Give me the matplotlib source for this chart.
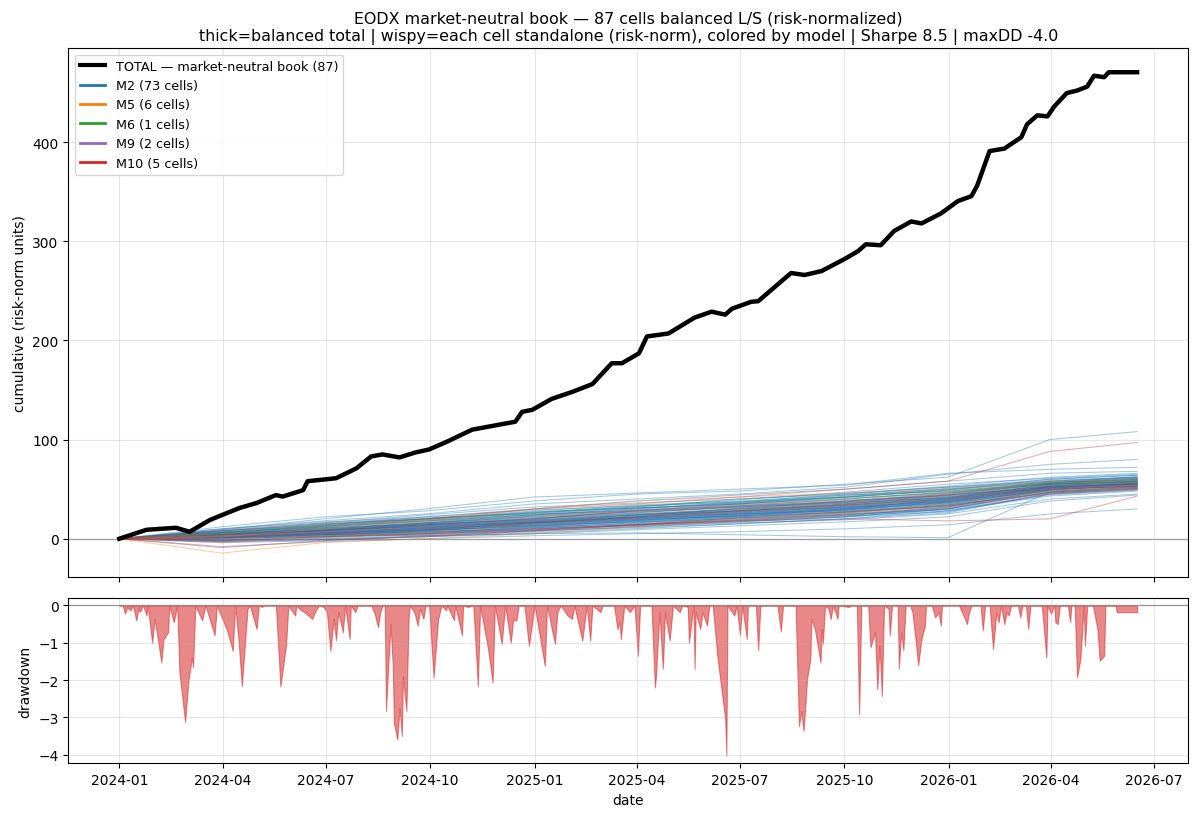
import pandas as pd
import matplotlib
matplotlib.use("Agg")
import matplotlib.pyplot as plt
from matplotlib.lines import Line2D

plt.rcParams["font.size"] = 10

# ---- data ----
start = pd.Timestamp("2024-01-01")

# balanced total, cumulative (day offset from 2024-01-01, value)
total_days = [0, 24, 50, 62, 80, 106, 121, 138, 144, 162, 166, 191, 209, 222, 232,
              247, 261, 273, 289, 311, 349, 355, 364, 381, 399, 417, 434, 443, 458, 465,
              484, 507, 522, 534, 540, 557, 563, 592, 604, 619, 639, 651, 658, 671, 683,
              698, 707, 724, 739, 751, 756, 767, 780, 795, 800, 809, 818, 824, 835, 844,
              853, 859, 868, 872, 897]
total_vals = [0, 9, 11, 7, 19, 31, 36, 44, 42.5, 49, 58, 61, 71, 83, 85,
              82, 87, 90, 98, 110, 118, 128, 130, 141, 148, 156, 177, 177, 187, 204,
              207, 223, 229, 226, 232, 239, 239.5, 268, 266, 270, 282, 290, 297, 296, 310.5,
              320, 318, 328, 340.5, 345.5, 356, 391, 393.5, 405, 418, 427, 426, 436, 449.5, 452,
              456, 467, 465.5, 470.5, 470.5]

# drawdown of the total
dd_days = [0, 3, 5, 7, 10, 12, 15, 17, 18, 21, 24, 25, 29, 31, 34, 37, 39, 43, 44, 48,
           51, 53, 58, 61, 64, 65, 67, 73, 76, 84, 86, 95, 100, 102, 105, 108, 113, 115, 121, 123,
           126, 127, 138, 142, 145, 147, 149, 155, 156, 159, 163, 170, 173, 176, 180, 183, 186, 189, 191, 193,
           197, 199, 203, 204, 208, 210, 222, 225, 228, 230, 232, 234, 235, 239, 241, 242, 245, 247, 249, 250,
           253, 255, 256, 260, 263, 265, 268, 270, 273, 277, 281, 284, 288, 289, 295, 296, 302, 303, 307, 312,
           316, 318, 325, 329, 331, 337, 340, 345, 347, 350, 352, 357, 361, 366, 375, 377, 382, 384, 386, 389,
           392, 395, 399, 401, 408, 412, 415, 417, 424, 426, 436, 439, 441, 442, 445, 450, 454, 457, 459, 469,
           472, 473, 476, 479, 481, 485, 488, 494, 496, 501, 502, 506, 507, 508, 512, 514, 518, 520, 523, 527,
           534, 535, 536, 542, 544, 547, 549, 553, 554, 561, 563, 565, 580, 583, 585, 596, 599, 601, 603, 605,
           606, 609, 610, 613, 615, 618, 619, 620, 622, 625, 627, 629, 633, 634, 643, 645, 650, 652, 654, 660,
           662, 666, 668, 670, 672, 674, 678, 679, 681, 686, 687, 689, 691, 693, 697, 699, 702, 704, 707, 710,
           711, 716, 719, 722, 724, 725, 740, 744, 747, 749, 751, 759, 761, 763, 767, 770, 773, 775, 777, 780,
           782, 784, 786, 792, 794, 796, 799, 801, 803, 813, 817, 818, 821, 824, 825, 827, 829, 836, 838, 839,
           842, 844, 847, 850, 851, 853, 858, 862, 864, 868, 869, 878, 879, 897]
dd_vals = [0, 0, -0.22, -0.05, -0.13, 0, -0.4, -0.05, -0.18, 0, -0.27, 0, -1.0, -0.36, -0.9, -1.53, -0.9, -0.72, 0, -0.45,
           0, -1.8, -3.13, -2.0, -1.4, -1.66, 0, -0.4, 0, -0.8, 0, -0.67, -1.22, 0, -0.9, -2.17, -0.1, 0, -0.63, 0,
           -0.04, 0, 0, -2.17, -1.5, -1.05, 0, -0.27, 0, -0.1, -0.18, -0.36, -0.14, 0, -0.04, -0.18, -1.22, -0.36, -0.94, -0.18,
           -0.72, 0, -0.9, 0, -0.18, 0, 0, -0.22, -0.58, -0.18, 0, 0, -2.83, -0.5, -1.6, -3.15, -3.6, -2.75, -3.5, -1.9,
           -2.83, -0.32, 0, -0.18, -0.54, -0.09, -0.36, 0, 0, -1.93, -0.36, 0, -0.13, 0, -0.4, 0, -0.8, 0, -0.04, 0,
           -2.17, 0, -1.17, -2.07, 0, -1.03, 0, -1.0, -0.4, -0.4, 0, 0, -1.08, 0, -1.62, 0, -0.76, -1.03, -0.18, 0,
           -0.13, -0.27, -0.36, 0, -0.94, 0, -0.94, 0, -0.18, 0, 0, -0.63, -0.45, -0.9, 0, -0.18, 0, -1.35, 0, 0,
           -2.2, -1.9, -0.18, -1.7, -0.18, -0.94, 0, -0.18, 0, -0.04, -1.0, 0, -1.7, -0.18, -0.63, -0.18, -0.54, 0, 0, -1.35,
           -3.06, -4.03, 0, -0.27, 0, -0.8, 0, -0.9, 0, 0, -1.2, 0, 0, -0.7, 0, 0, -3.24, -2.83, -3.37, -2.52,
           -2.0, -1.44, -0.36, -0.63, -1.0, -1.53, -0.63, -1.03, 0, -0.09, -0.36, 0, -0.36, 0, -0.04, 0, 0, -2.92, 0, 0,
           -1.12, -0.72, -2.25, -1.08, -2.43, 0, -0.09, -0.8, 0, 0, -1.7, -0.72, -1.2, 0, 0, -0.18, -1.0, -1.6, -0.9, -0.54,
           0, 0, -0.32, -0.18, -0.54, 0, 0, -0.27, -0.5, -0.18, 0, 0, -0.67, 0, 0, -1.17, -0.18, -0.45, 0, -0.5,
           -0.18, -0.27, 0, 0, -0.32, 0, 0, -0.63, 0, 0, -1.4, 0, -0.22, 0, -0.45, -0.5, 0, 0, -0.45, 0,
           0, -1.93, -1.44, 0, -1.08, 0, 0, -0.63, -1.48, -1.35, 0, 0, -0.18, -0.18]

# each cell standalone, sampled at these day offsets
cell_days = [0, 90, 180, 270, 365, 455, 545, 640, 730, 820, 897]

m2_cells = [
    [0, 12, 22, 28, 38, 45, 48, 55, 62, 100, 108],
    [0, 10, 18, 25, 35, 40, 45, 52, 65, 75, 80],
    [0, 9, 20, 30, 42, 46, 50, 54, 66, 70, 72],
    [0, 6, 14, 22, 30, 38, 44, 50, 58, 66, 68],
    [0, 4, 12, 18, 26, 32, 40, 46, 52, 60, 64],
    [0, 2, 8, 14, 20, 28, 35, 42, 50, 58, 62],
    [0, 5, 10, 16, 24, 30, 36, 44, 48, 56, 60],
    [0, 3, 9, 12, 18, 24, 30, 38, 46, 55, 58],
    [0, 1, 6, 10, 16, 22, 28, 34, 42, 52, 56],
    [0, -2, 2, 6, 12, 18, 24, 30, 40, 50, 54],
    [0, 7, 15, 20, 28, 34, 38, 44, 50, 57, 59],
    [0, 3, 7, 11, 17, 21, 27, 33, 41, 51, 53],
    [0, 0, 4, 8, 14, 20, 26, 32, 38, 48, 52],
    [0, -4, -2, 3, 8, 14, 20, 26, 34, 46, 50],
    [0, 8, 16, 24, 32, 36, 40, 45, 52, 58, 61],
    [0, 2, 5, 9, 15, 19, 25, 30, 36, 49, 55],
    [0, 5, 12, 18, 22, 27, 31, 37, 45, 55, 57],
    [0, 1, 3, 5, 9, 13, 17, 22, 30, 47, 50],
    [0, 6, 11, 15, 21, 26, 33, 40, 47, 56, 63],
    [0, -1, 4, 7, 11, 16, 22, 27, 35, 50, 54],
    [0, 4, 9, 13, 19, 25, 29, 35, 44, 53, 56],
    [0, 2, 6, 12, 16, 21, 26, 31, 39, 52, 58],
    [0, 10, 17, 22, 29, 33, 37, 42, 49, 57, 60],
    [0, -3, 0, 2, 6, 10, 15, 20, 28, 43, 48],
    [0, 3, 8, 15, 23, 28, 34, 39, 43, 54, 57],
    [0, 1, 2, 4, 8, 12, 16, 19, 25, 40, 45],
    [0, 5, 13, 19, 27, 32, 39, 47, 55, 61, 65],
    [0, 2, 4, 7, 10, 14, 18, 23, 32, 49, 53],
    [0, 4, 7, 10, 14, 20, 25, 28, 34, 50, 56],
    [0, 6, 9, 14, 18, 23, 28, 32, 38, 52, 55],
    [0, -2, 1, 5, 9, 15, 21, 24, 30, 47, 51],
    [0, 7, 12, 17, 25, 31, 35, 41, 46, 56, 59],
    [0, 3, 6, 8, 13, 17, 22, 26, 33, 48, 52],
    [0, 1, 5, 11, 17, 22, 31, 36, 41, 55, 60],
    [0, 5, 8, 12, 16, 19, 23, 29, 37, 51, 57],
    [0, 2, 7, 10, 15, 20, 27, 33, 40, 53, 58],
    [0, -8, -3, 0, 3, 5, 7, 10, 14, 25, 30],
    [0, 8, 14, 20, 26, 31, 36, 43, 51, 59, 62],
    [0, 0, 3, 6, 11, 16, 21, 25, 29, 44, 49],
    [0, 4, 10, 14, 20, 26, 32, 38, 45, 58, 62],
    [0, 2, 6, 9, 13, 18, 24, 30, 37, 52, 55],
    [0, 3, 5, 9, 12, 17, 20, 24, 31, 47, 53],
    [0, 6, 13, 20, 27, 31, 35, 40, 47, 55, 58],
    [0, 1, 4, 8, 12, 15, 19, 23, 28, 45, 50],
    [0, 2, 4, 3, 5, 6, 4, 2, 1, 47, 52],
    [0, 5, 9, 16, 21, 25, 30, 34, 40, 54, 57],
    [0, 3, 8, 13, 18, 24, 28, 33, 39, 51, 54],
    [0, 7, 11, 16, 23, 29, 35, 42, 49, 60, 64],
    [0, -1, 2, 5, 8, 11, 15, 20, 26, 46, 51],
    [0, 4, 6, 11, 16, 20, 25, 31, 38, 53, 59],
    [0, 2, 9, 15, 19, 24, 29, 34, 41, 55, 58],
    [0, 5, 11, 14, 19, 22, 27, 32, 37, 50, 53],
    [0, 1, 3, 8, 14, 19, 23, 27, 33, 49, 55],
    [0, 6, 12, 18, 24, 29, 33, 38, 44, 56, 60],
    [0, 3, 4, 7, 11, 14, 18, 22, 30, 48, 52],
    [0, -2, -1, 2, 5, 9, 13, 17, 22, 38, 44],
    [0, 8, 13, 19, 24, 30, 37, 45, 53, 62, 66],
    [0, 2, 5, 10, 16, 21, 25, 29, 36, 51, 56],
    [0, 4, 9, 12, 17, 23, 30, 35, 42, 54, 57],
    [0, 1, 4, 6, 10, 13, 18, 24, 31, 49, 54],
    [0, 5, 10, 15, 20, 24, 28, 31, 39, 53, 58],
    [0, 3, 7, 13, 18, 22, 28, 35, 43, 56, 61],
    [0, 0, 5, 8, 13, 19, 23, 28, 35, 50, 53],
    [0, 6, 8, 13, 17, 21, 26, 30, 38, 52, 56],
    [0, 2, 6, 11, 14, 18, 22, 27, 34, 50, 55],
    [0, 4, 8, 10, 15, 21, 27, 32, 40, 55, 60],
    [0, 1, 2, 6, 9, 14, 19, 25, 32, 50, 54],
    [0, 3, 10, 16, 22, 27, 32, 37, 42, 54, 57],
    [0, 5, 7, 12, 18, 24, 30, 36, 44, 57, 61],
    [0, -3, -1, 3, 7, 12, 17, 22, 27, 45, 50],
    [0, 2, 8, 12, 17, 20, 24, 29, 36, 51, 56],
    [0, 9, 16, 21, 25, 28, 32, 36, 41, 52, 55],
    [0, 4, 6, 9, 13, 17, 23, 29, 37, 53, 58],
]
m5_cells = [
    [0, -4, 1, 6, 14, 20, 27, 33, 40, 50, 54],
    [0, 2, 10, 18, 30, 38, 42, 46, 50, 58, 60],
    [0, -14.5, -4, 0, 5, 12, 18, 25, 32, 46, 50],
    [0, 3, 7, 12, 18, 25, 30, 36, 44, 54, 57],
    [0, 0, 3, 5, 9, 14, 20, 26, 35, 48, 52],
    [0, 5, 12, 17, 23, 28, 34, 40, 46, 56, 59],
]
m6_cells = [
    [0, 6, 14, 20, 26, 33, 37, 42, 48, 56, 58],
]
m9_cells = [
    [0, 2, 6, 10, 15, 20, 26, 31, 38, 50, 54],
    [0, -3, 0, 4, 9, 14, 19, 24, 30, 45, 49],
]
m10_cells = [
    [0, 8, 15, 20, 30, 35, 42, 50, 58, 88, 97],
    [0, -2, 2, 5, 10, 14, 18, 20, 18, 20, 43],
    [0, 4, 8, 14, 20, 28, 33, 37, 44, 52, 55],
    [0, 1, 5, 9, 16, 22, 28, 34, 40, 50, 53],
    [0, -9, -2, 2, 8, 14, 21, 27, 33, 46, 51],
]

models = ["M2", "M5", "M6", "M9", "M10"]
model_cells = [m2_cells, m5_cells, m6_cells, m9_cells, m10_cells]
model_colors = ["tab:blue", "tab:orange", "tab:green", "tab:purple", "tab:red"]

# ---- convert day offsets to dates ----
total_dates = start + pd.to_timedelta(total_days, unit="D")
dd_dates = start + pd.to_timedelta(dd_days, unit="D")
cell_dates = start + pd.to_timedelta(cell_days, unit="D")

# ---- figure ----
fig, (ax, ax2) = plt.subplots(2, 1, figsize=(12, 8.2), dpi=100, sharex=True,
                              gridspec_kw={"height_ratios": [3.2, 1]})
fig.subplots_adjust(left=0.057, right=0.99, top=0.940, bottom=0.068, hspace=0.06)

for cells, color in zip(model_cells, model_colors):
    for c in cells:
        ax.plot(cell_dates, c, color=color, lw=0.75, alpha=0.4, zorder=2)

ax.plot(total_dates, total_vals, color="black", lw=3.2, zorder=5)
ax.axhline(0, color="gray", lw=0.9, alpha=0.8, zorder=1)

ax.set_ylabel("cumulative (risk-norm units)")
ax.grid(True, alpha=0.3)
ax.set_title("EODX market-neutral book — 87 cells balanced L/S (risk-normalized)\n"
             "thick=balanced total | wispy=each cell standalone (risk-norm), colored by model"
             " | Sharpe 8.5 | maxDD -4.0", fontsize=11.4)

handles = [Line2D([0], [0], color="black", lw=3,
                  label="TOTAL — market-neutral book (87)")]
for name, cells, color in zip(models, model_cells, model_colors):
    handles.append(Line2D([0], [0], color=color, lw=2,
                          label=f"{name} ({len(cells)} cells)"))
ax.legend(handles=handles, loc="upper left", fontsize=9.2)

# drawdown panel
ax2.fill_between(dd_dates, dd_vals, 0, color="tab:red", alpha=0.55, lw=0.8)
ax2.axhline(0, color="gray", lw=0.9, alpha=0.8)
ax2.set_ylabel("drawdown")
ax2.set_xlabel("date")
ax2.grid(True, alpha=0.3)

fig.savefig("out.png", dpi=100)
